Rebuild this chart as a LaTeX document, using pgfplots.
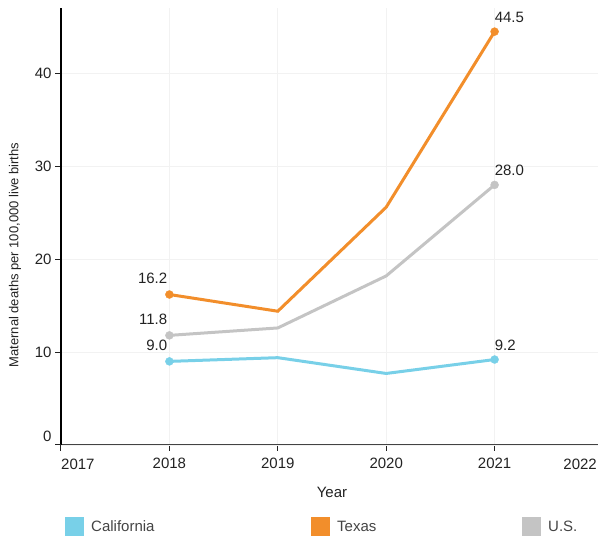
\documentclass[border=0pt]{standalone}
\usepackage{pgfplots}
\pgfplotsset{compat=1.18}
\usepackage{fontspec}
\setmainfont{Liberation Sans}

\definecolor{cacol}{HTML}{78D0E8}
\definecolor{txcol}{HTML}{F28E2B}
\definecolor{uscol}{HTML}{C4C4C4}
\definecolor{txtcol}{HTML}{222222}
\definecolor{legcol}{HTML}{444444}

\pgfplotsset{
  endleft/.style={only marks, mark=*, mark size=4pt, forget plot,
    nodes near coords, point meta=explicit symbolic,
    nodes near coords style={anchor=south east, inner sep=0pt, xshift=-2pt, yshift=11pt,
      text=txtcol, font=\fontsize{15}{18}\selectfont}},
  endright/.style={only marks, mark=*, mark size=4pt, forget plot,
    nodes near coords, point meta=explicit symbolic,
    nodes near coords style={anchor=south west, inner sep=0pt, xshift=0pt, yshift=9pt,
      text=txtcol, font=\fontsize{15}{18}\selectfont}},
}

\begin{document}
\begin{tikzpicture}
\begin{axis}[
    at={(0,0)}, anchor=south west,
    scale only axis,
    width=542pt, height=436.6pt,
    xmin=2017, xmax=2022,
    ymin=0, ymax=47,
    /pgf/number format/assume math mode=true,
    xtick={2017,2018,2019,2020,2021,2022},
    xticklabels={,2018,2019,2020,2021,},
    xticklabel style={yshift=-3pt},
    ytick={10,20,30,40},
    extra y ticks={0},
    extra y tick style={yticklabel style={yshift=9pt}},
    axis x line*=bottom,
    axis y line*=left,
    x axis line style={draw=txtcol!85, line width=1.2pt},
    y axis line style={draw=black, line width=1.2pt},
    tick align=outside,
    major tick length=6pt,
    tick style={draw=txtcol, line width=1pt},
    grid=major,
    major grid style={draw=black!5, line width=0.8pt},
    ticklabel style={font=\fontsize{15}{18}\selectfont, text=txtcol},
    every axis x label/.style={at={(axis description cs:0.5,0)}, anchor=center,
      yshift=-47pt, font=\fontsize{15}{18}\selectfont, text=txtcol},
    every axis y label/.style={at={(axis description cs:0,0.435)}, rotate=90, anchor=center,
      yshift=46pt, font=\fontsize{13}{16}\selectfont, text=txtcol},
    xlabel={Year},
    ylabel={Maternal deaths per 100,000 live births},
    clip=false,
    legend columns=3,
    legend image code/.code={\fill (0pt,-8pt) rectangle (16pt,8pt);},
    legend style={at={(axis description cs:0,0)}, anchor=west, xshift=4pt, yshift=-82pt,
      draw=none, fill=none, inner sep=0pt,
      nodes={inner sep=0pt, anchor=west, text=legcol, font=\fontsize{15}{18}\selectfont},
      /tikz/every odd column/.append style={column sep=7pt},
      /tikz/every even column/.append style={column sep=0pt}},
]

\addplot[color=cacol, line width=3pt] coordinates {
  (2018,9.0) (2019,9.4) (2020,7.7) (2021,9.2)
};
\addlegendentry{\makebox[220pt][l]{California}}
\addplot[color=txcol, line width=3pt] coordinates {
  (2018,16.2) (2019,14.4) (2020,25.6) (2021,44.5)
};
\addlegendentry{\makebox[185pt][l]{Texas}}
\addplot[color=uscol, line width=3pt] coordinates {
  (2018,11.8) (2019,12.6) (2020,18.2) (2021,28.0)
};
\addlegendentry{U.S.}

\addplot[color=cacol, endleft] coordinates {(2018,9.0) [9.0]};
\addplot[color=cacol, endright] coordinates {(2021,9.2) [9.2]};
\addplot[color=txcol, endleft] coordinates {(2018,16.2) [16.2]};
\addplot[color=txcol, endright] coordinates {(2021,44.5) [44.5]};
\addplot[color=uscol, endleft] coordinates {(2018,11.8) [11.8]};
\addplot[color=uscol, endright] coordinates {(2021,28.0) [28.0]};

\node[anchor=north west, inner sep=0pt, text=txtcol, font=\fontsize{15}{18}\selectfont]
  at (axis cs:2017,0) [yshift=-14pt] {2017};
\node[anchor=north east, inner sep=0pt, text=txtcol, font=\fontsize{15}{18}\selectfont]
  at (axis cs:2022,0) [xshift=-6pt, yshift=-14pt] {2022};
\end{axis}
\pgfresetboundingbox
\useasboundingbox (-61pt,-92pt) rectangle (537pt,445pt);
\end{tikzpicture}
\end{document}
